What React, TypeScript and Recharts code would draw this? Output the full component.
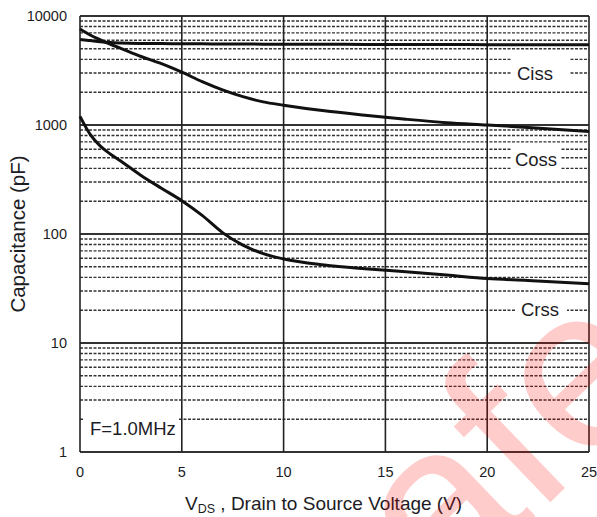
import { LineChart, Line, XAxis, YAxis, ReferenceLine } from 'recharts'

// Drain-source voltage sample points (V)
const vds = [0, 0.5, 1, 1.5, 2, 3, 4, 5, 6, 7, 8, 9, 10, 12, 14, 16, 18, 20, 22, 25]
// Capacitances (pF)
const ciss = [6100, 5950, 5800, 5700, 5650, 5600, 5580, 5560, 5550, 5540, 5530, 5520, 5510, 5500, 5490, 5480, 5470, 5460, 5450, 5440]
const coss = [7600, 6700, 6050, 5500, 5050, 4250, 3650, 3050, 2500, 2100, 1820, 1630, 1520, 1350, 1230, 1130, 1050, 1000, 950, 870]
const crss = [1200, 820, 640, 540, 467, 345, 263, 202, 148, 103, 79, 66, 59, 52, 48, 45, 42, 39, 37.5, 35]

const xTicks = [0, 5, 10, 15, 20, 25]
const decades = [1, 10, 100, 1000, 10000]
const minorSteps = [2, 3, 4, 5, 6, 7, 8, 9]

const data = vds.map((v, i) => ({ vds: v, ciss: ciss[i], coss: coss[i], crss: crss[i] }))
const minorLines = decades.slice(0, -1).flatMap((d) => minorSteps.map((m) => d * m))

const FONT = '"Liberation Sans", Arial, sans-serif'
const INK = '#1c1c24'

export default function App() {
  return (
    <div style={{ position: 'absolute', left: 0, top: 0, width: 597, height: 517, background: '#fff', overflow: 'hidden' }}>
      <LineChart width={597} height={517} data={data} margin={{ top: 16, right: 8, left: 0, bottom: 35 }}>
        <XAxis
          dataKey="vds"
          type="number"
          domain={[0, 25]}
          ticks={xTicks}
          axisLine={false}
          tickLine={false}
          tickSize={0}
          tickMargin={15}
          height={30}
          tick={{ fill: INK, fontSize: 14.5, fontFamily: FONT }}
        />
        <YAxis
          type="number"
          scale="log"
          domain={[1, 10000]}
          allowDataOverflow
          ticks={decades}
          axisLine={false}
          tickLine={false}
          tickSize={0}
          tickMargin={13}
          width={80}
          tick={{ fill: INK, fontSize: 14.5, fontFamily: FONT }}
        />
        {minorLines.map((v) => (
          <ReferenceLine key={'m' + v} y={v} stroke="#333" strokeWidth={1.4} strokeDasharray="3 1.5" />
        ))}
        {decades.map((v) => (
          <ReferenceLine key={'d' + v} y={v} stroke="#333" strokeWidth={2} />
        ))}
        {xTicks.map((v) => (
          <ReferenceLine key={'x' + v} x={v} stroke="#222" strokeWidth={1.6} />
        ))}
        <Line type="monotone" dataKey="ciss" stroke="#111" strokeWidth={3} dot={false} isAnimationActive={false} />
        <Line type="monotone" dataKey="coss" stroke="#111" strokeWidth={3} dot={false} isAnimationActive={false} />
        <Line type="monotone" dataKey="crss" stroke="#111" strokeWidth={3} dot={false} isAnimationActive={false} />
      </LineChart>
      <svg
        width={597}
        height={517}
        style={{ position: 'absolute', left: 0, top: 0, pointerEvents: 'none' }}
        fontFamily={FONT}
        fill={INK}
      >
        {/* curve labels on white patches */}
        <rect x={512} y={55} width={57} height={33} fill="#fff" />
        <text x={535} y={80} fontSize={18.5} textAnchor="middle">Ciss</text>
        <rect x={512} y={144} width={48} height={28} fill="#fff" />
        <text x={536} y={166} fontSize={18.5} textAnchor="middle">Coss</text>
        <rect x={515} y={297} width={52} height={25} fill="#fff" />
        <text x={540} y={316} fontSize={18.5} textAnchor="middle">Crss</text>
        <rect x={84} y={413} width={94} height={30} fill="#fff" />
        <text x={90} y={435} fontSize={18.5}>F=1.0MHz</text>

        {/* axis titles */}
        <text x={185} y={510} fontSize={19}>
          V<tspan fontSize={12.5} dy={3}>DS</tspan>
          <tspan dy={-3}> , Drain to Source Voltage (V)</tspan>
        </text>
        <text x={25} y={234} fontSize={20.5} textAnchor="middle" transform="rotate(-90 25 234)">
          Capacitance (pF)
        </text>

        {/* watermark */}
        <text
          x={361}
          y={685}
          fontSize={230}
          fill="#ff0000"
          fillOpacity={0.2}
          transform="rotate(-44 361 685)"
        >
          safe
        </text>
      </svg>
    </div>
  )
}
